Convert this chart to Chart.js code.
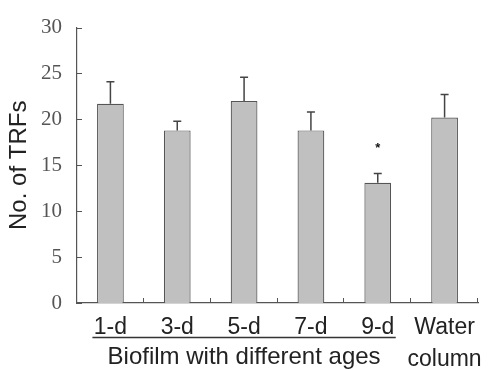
<!DOCTYPE html>
<html>
<head>
<meta charset="utf-8">
<script src="https://cdn.jsdelivr.net/npm/chart.js@4.4.0/dist/chart.umd.min.js"></script>
<style>
  html, body { margin: 0; padding: 0; background: #fff; }
  #wrap { position: relative; width: 494px; height: 369px; }
</style>
</head>
<body>
<div id="wrap"><canvas id="trfChart"></canvas></div>
<script>
// data
const categories = ['1-d', '3-d', '5-d', '7-d', '9-d', ['Water', 'column']];
const meanTRFs = [21.7, 18.8, 22.0, 18.8, 13.1, 20.2];
const errTRFs = [2.4, 1.0, 2.6, 2.0, 1.0, 2.5];
const markers = ['', '', '', '', '*', ''];
const yTicks = [0, 5, 10, 15, 20, 25, 30];
const groupLabel = 'Biofilm with different ages';
const groupRange = [0, 4];

const axisColor = '#555';

// error bars (upper only), significance stars, inward tick marks, group label
const extrasPlugin = {
    id: 'extras',
    afterDatasetsDraw(chart) {
        const ctx = chart.ctx;
        const y = chart.scales.y;
        const meta = chart.getDatasetMeta(0);
        ctx.save();
        ctx.strokeStyle = '#444';
        ctx.lineWidth = 1.5;
        meta.data.forEach((bar, i) => {
            const cx = bar.x;
            const y0 = y.getPixelForValue(meanTRFs[i]);
            const y1 = y.getPixelForValue(meanTRFs[i] + errTRFs[i]);
            ctx.beginPath();
            ctx.moveTo(cx, y0);
            ctx.lineTo(cx, y1);
            ctx.moveTo(cx - 4, y1);
            ctx.lineTo(cx + 4, y1);
            ctx.stroke();
            if (markers[i]) {
                ctx.fillStyle = '#111';
                ctx.font = 'bold 13px "Liberation Sans"';
                ctx.textAlign = 'center';
                ctx.textBaseline = 'middle';
                ctx.fillText(markers[i], cx, y1 - 25);
            }
        });
        ctx.restore();
    },
    afterDraw(chart) {
        const ctx = chart.ctx;
        const x = chart.scales.x;
        const y = chart.scales.y;
        const area = chart.chartArea;
        ctx.save();
        ctx.strokeStyle = axisColor;
        ctx.lineWidth = 1;
        // y ticks pointing into the plot
        yTicks.forEach(v => {
            const py = Math.round(y.getPixelForValue(v)) + 0.5;
            ctx.beginPath();
            ctx.moveTo(area.left, py);
            ctx.lineTo(area.left + 5, py);
            ctx.stroke();
        });
        // x ticks at category boundaries
        const step = (area.right - area.left) / categories.length;
        for (let i = 1; i <= categories.length; i++) {
            const px = Math.round(area.left + step * i) - 0.5;
            ctx.beginPath();
            ctx.moveTo(px, area.bottom);
            ctx.lineTo(px, area.bottom - 5);
            ctx.stroke();
        }
        // group underline and label
        const gx0 = x.getPixelForValue(groupRange[0]) - 18;
        const gx1 = x.getPixelForValue(groupRange[1]) + 18;
        ctx.strokeStyle = '#333';
        ctx.lineWidth = 1.5;
        ctx.beginPath();
        ctx.moveTo(gx0, 337.5);
        ctx.lineTo(gx1, 337.5);
        ctx.stroke();
        ctx.fillStyle = '#222';
        ctx.font = '24px "Liberation Sans"';
        ctx.textAlign = 'center';
        ctx.textBaseline = 'middle';
        ctx.fillText(groupLabel, (gx0 + gx1) / 2, 357);
        ctx.restore();
    }
};

new Chart(document.getElementById('trfChart'), {
    type: 'bar',
    data: {
        labels: categories,
        datasets: [{
            data: meanTRFs,
            backgroundColor: '#c0c0c0',
            borderColor: '#555',
            borderWidth: 1.2,
            barPercentage: 0.4,
            categoryPercentage: 1.0
        }]
    },
    options: {
        responsive: true,
        maintainAspectRatio: false,
        animation: false,
        devicePixelRatio: 1,
        layout: { padding: { top: 19, right: 16, left: 0, bottom: 0 } },
        plugins: {
            legend: { display: false },
            tooltip: { enabled: false }
        },
        scales: {
            x: {
                grid: { display: false, drawTicks: false },
                border: { display: true, color: axisColor, width: 1.2 },
                ticks: {
                    color: '#222',
                    padding: 8,
                    maxRotation: 0,
                    autoSkip: false,
                    font: { family: 'Liberation Sans', size: 23, lineHeight: 1.41 }
                },
                afterFit(scale) { scale.height = 66; }
            },
            y: {
                min: 0,
                max: 30,
                grid: { display: false, drawTicks: false },
                border: { display: true, color: axisColor, width: 1.2 },
                afterBuildTicks(scale) { scale.ticks = yTicks.map(v => ({ value: v })); },
                ticks: {
                    color: '#555',
                    padding: 15,
                    font: { family: 'Liberation Serif', size: 21 }
                },
                title: {
                    display: true,
                    text: 'No. of TRFs',
                    color: '#222',
                    padding: { top: 5, bottom: 0 },
                    font: { family: 'Liberation Sans', size: 24 }
                },
                afterFit(scale) { scale.width = 77; }
            }
        }
    },
    plugins: [extrasPlugin]
});
</script>
</body>
</html>
